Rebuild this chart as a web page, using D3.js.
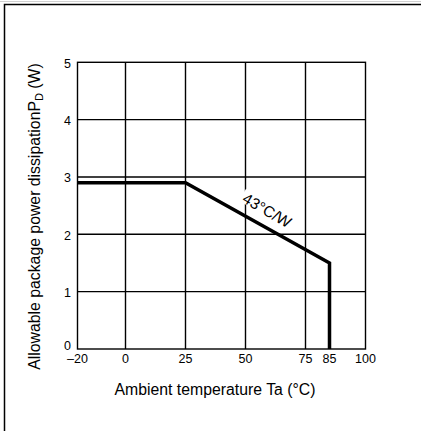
<!DOCTYPE html>
<html>
<head>
<meta charset="utf-8">
<script src="https://cdn.jsdelivr.net/npm/d3@7"></script>
<style>
html,body{margin:0;padding:0;background:#fff;}
svg{display:block;font-family:"Liberation Sans",Arial,sans-serif;}
</style>
</head>
<body>
<svg id="chart" width="421" height="431"></svg>
<script>
// Data
const xTicks = [-20, 0, 25, 50, 75, 85, 100];
const xTickLabels = ["\u201320", "0", "25", "50", "75", "85", "100"];
const yTicks = [0, 1, 2, 3, 4, 5];
const gridX = [0, 25, 50, 75];
const gridY = [1, 2, 3, 4];
const temps = [-20, 25, 85, 85];
const power = [2.9, 2.9, 1.5, 0];
const slopeLabel = "43\u00B0C/W";
const slopeLabelAt = [59, 2.42];

const svg = d3.select("#chart");
const x = d3.scaleLinear().domain([-20, 100]).range([77.5, 365.5]);
const y = d3.scaleLinear().domain([0, 5]).range([349, 62.3]);

// outer frame (top/left visible)
svg.append("line").attr("x1", 0).attr("x2", 421).attr("y1", 1.5).attr("y2", 1.5)
  .attr("stroke", "#d0d0d0").attr("stroke-width", 1);
svg.append("path").attr("d", "M4.5,431V4.5H421").attr("fill", "none")
  .attr("stroke", "#000").attr("stroke-width", 1.5);

const g = svg.append("g");
// grid
g.selectAll(".gx").data(gridX).join("line")
  .attr("x1", d => x(d)).attr("x2", d => x(d))
  .attr("y1", y(0)).attr("y2", y(5))
  .attr("stroke", "#000").attr("stroke-width", 1.4);
g.selectAll(".gy").data(gridY).join("line")
  .attr("y1", d => y(d)).attr("y2", d => y(d))
  .attr("x1", x(-20)).attr("x2", x(100))
  .attr("stroke", "#000").attr("stroke-width", 1.4);
g.append("rect")
  .attr("x", x(-20)).attr("y", y(5))
  .attr("width", x(100) - x(-20)).attr("height", y(0) - y(5))
  .attr("fill", "none").attr("stroke", "#000").attr("stroke-width", 1.4);

// slope label with white background
const lx = x(slopeLabelAt[0]), ly = y(slopeLabelAt[1]);
const dx = x(85) - x(25), dy = y(1.5) - y(2.9);
const ang = Math.atan2(dy, dx) * 180 / Math.PI + 1;
const lab = g.append("g").attr("transform", `translate(${lx},${ly}) rotate(${ang})`);
lab.append("rect").attr("x", -29).attr("y", -8).attr("width", 58).attr("height", 14).attr("fill", "#fff");
lab.append("text").attr("text-anchor", "middle").attr("y", 5.5)
  .attr("font-size", 15.5).text(slopeLabel);

// data line
const pts = temps.map((t, i) => [t, power[i]]);
g.append("path")
  .attr("d", d3.line().x(d => x(d[0])).y(d => y(d[1]))(pts))
  .attr("fill", "none").attr("stroke", "#000").attr("stroke-width", 3.5)
  .attr("stroke-linejoin", "miter");

// tick labels
g.selectAll(".xt").data(xTicks).join("text")
  .attr("x", d => x(d)).attr("y", 362.5)
  .attr("text-anchor", "middle").attr("font-size", 12.5)
  .text((d, i) => xTickLabels[i]);
g.selectAll(".yt").data(yTicks).join("text")
  .attr("x", 71).attr("y", d => y(d) + (d === 0 ? -4 : 1)).attr("dy", "0.36em")
  .attr("text-anchor", "end").attr("font-size", 12.5)
  .text(d => d);

// axis titles
svg.append("text").attr("x", 215).attr("y", 395).attr("text-anchor", "middle")
  .attr("font-size", 15.8).text("Ambient temperature Ta (\u00B0C)");
const yt = svg.append("text").attr("transform", "translate(40,216.5) rotate(-90)")
  .attr("text-anchor", "middle").attr("font-size", 15.8);
yt.append("tspan").text("Allowable package power dissipationP");
yt.append("tspan").attr("font-size", 11).attr("dy", 3).text("D");
yt.append("tspan").attr("dy", -3).text(" (W)");
</script>
</body>
</html>
